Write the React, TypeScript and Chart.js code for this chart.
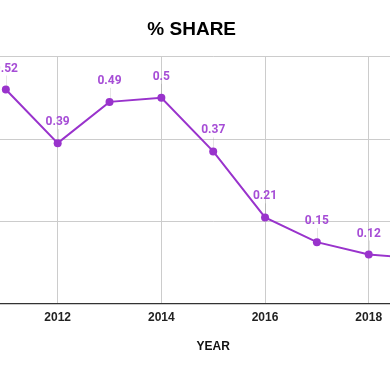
import React, { useEffect, useRef } from "react";
import { Chart, registerables } from "chart.js";

Chart.register(...registerables);

const years = [2011, 2012, 2013, 2014, 2015, 2016, 2017, 2018, 2019];
const shares = [0.52, 0.39, 0.49, 0.5, 0.37, 0.21, 0.15, 0.12, 0.11];
const xMin = 2010;
const xMax = 2020;
const xStep = 2;
const yMin = 0;
const yMax = 0.6;
const yStep = 0.2;
const chartTitle = "% SHARE";
const xTitle = "YEAR";

const LINE = "#9933cc";
const LABEL = "#a64dd6";
const GRID = "#cccccc";

const labelPlugin = {
  id: "valueLabels",
  beforeDatasetsDraw(chart: any) {
    const ctx = chart.ctx;
    const meta = chart.getDatasetMeta(0);
    ctx.save();
    ctx.strokeStyle = "rgba(0,0,0,0.10)";
    ctx.lineWidth = 1;
    meta.data.forEach((pt: any) => {
      const { x, y } = pt.getProps(["x", "y"], true);
      const px = Math.round(x) + 0.5;
      ctx.beginPath();
      ctx.moveTo(px, y - 14);
      ctx.lineTo(px, y - 3);
      ctx.stroke();
    });
    ctx.restore();
  },
  afterDatasetsDraw(chart: any) {
    const ctx = chart.ctx;
    const meta = chart.getDatasetMeta(0);
    ctx.save();
    ctx.font = "bold 12px Roboto";
    ctx.textAlign = "center";
    ctx.textBaseline = "middle";
    ctx.fillStyle = LABEL;
    meta.data.forEach((pt: any, i: number) => {
      const { x, y } = pt.getProps(["x", "y"], true);
      ctx.fillText(String(shares[i]), x, y - 21);
    });
    ctx.restore();
  },
};

export default function App() {
  const ref = useRef<HTMLCanvasElement | null>(null);

  useEffect(() => {
    if (!ref.current) return;
    const chart = new Chart(ref.current, {
      type: "line",
      data: {
        datasets: [
          {
            label: chartTitle,
            data: years.map((yr, i) => ({ x: yr, y: shares[i] })),
            borderColor: LINE,
            backgroundColor: LINE,
            borderWidth: 2,
            pointRadius: 4,
            pointBorderWidth: 0,
            pointBackgroundColor: LINE,
            tension: 0,
          },
        ],
      },
      options: {
        animation: false,
        responsive: true,
        maintainAspectRatio: false,
        layout: { padding: { left: 0, right: 19.6, top: 0, bottom: 0 } },
        plugins: {
          legend: { display: false },
          tooltip: { enabled: false },
          title: {
            display: true,
            text: chartTitle,
            color: "#000",
            font: { family: "'Liberation Sans', Arial, sans-serif", size: 19, weight: "bold" },
            padding: { top: 18.1, bottom: 15.6 },
          },
        },
        scales: {
          x: {
            type: "linear",
            min: xMin,
            max: xMax,
            ticks: {
              stepSize: xStep,
              callback: (v: any) => String(v),
              color: "#222",
              font: { family: "'Liberation Sans', Arial, sans-serif", size: 12, weight: "bold" },
              padding: 6,
              maxRotation: 0,
            },
            grid: { color: GRID, drawTicks: false },
            border: { color: "#333", width: 1.3 },
            title: {
              display: true,
              text: xTitle,
              color: "#111",
              font: { family: "'Liberation Sans', Arial, sans-serif", size: 12, weight: "bold" },
              padding: { top: 9.1, bottom: 17.1 },
            },
          },
          y: {
            min: yMin,
            max: yMax,
            ticks: { stepSize: yStep, display: false },
            grid: {
              color: (c: any) => (c.tick && c.tick.value === 0 ? "rgba(0,0,0,0)" : GRID),
              drawTicks: false,
            },
            border: { display: false },
            afterFit: (s: any) => {
              s.width = 43;
            },
          },
        },
      },
      plugins: [labelPlugin],
    });
    return () => chart.destroy();
  }, []);

  return (
    <div
      style={{
        position: "fixed",
        left: 0,
        top: 0,
        width: 390,
        height: 371,
        overflow: "hidden",
        background: "#fff",
      }}
    >
      <div style={{ position: "absolute", left: -89, top: 0, width: 581, height: 371 }}>
        <canvas ref={ref} />
      </div>
    </div>
  );
}
